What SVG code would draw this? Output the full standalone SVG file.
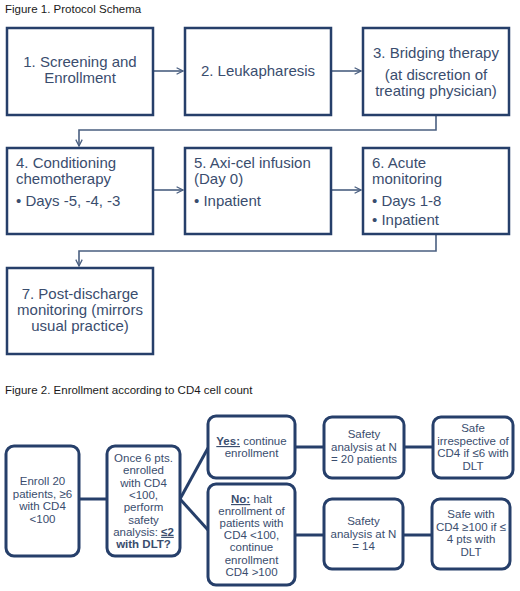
<svg xmlns="http://www.w3.org/2000/svg" width="520" height="591" viewBox="0 0 520 591">
<defs>
<style>
.t{font-family:"Liberation Sans",Arial,sans-serif;fill:#3a4d6e}
.h{font-family:"Liberation Sans",Arial,sans-serif;font-size:11.5px;fill:#1a1a1a}
.b1{fill:#fff;stroke:#263f6a;stroke-width:2.5}
.b2{fill:#fff;stroke:#263f6a;stroke-width:3}
.f1{font-size:15px}
.f2{font-size:11.5px;text-anchor:middle}
.c1{fill:none;stroke:#4a5f80;stroke-width:1.6}
.c2{fill:none;stroke:#263f6a;stroke-width:3}
.bu{font-weight:bold;text-decoration:underline}
.bo{font-weight:bold}
</style>
<marker id="ah" viewBox="0 0 10 10" refX="9" refY="5" markerWidth="8" markerHeight="8" markerUnits="userSpaceOnUse" orient="auto">
<path d="M1,1 L9,5 L1,9" fill="none" stroke="#4a5f80" stroke-width="1.6"/>
</marker>
</defs>
<rect width="520" height="591" fill="#fff"/>
<text class="h" x="5" y="13">Figure 1. Protocol Schema</text>
<text class="h" x="5" y="394">Figure 2. Enrollment according to CD4 cell count</text>

<g id="connectors">
<path class="c1" d="M153,71 H183" marker-end="url(#ah)"/>
<path class="c1" d="M331,71 H361" marker-end="url(#ah)"/>
<path class="c1" d="M436,115 V130 H79 V146" marker-end="url(#ah)"/>
<path class="c1" d="M153,190 H183" marker-end="url(#ah)"/>
<path class="c1" d="M331,190 H361" marker-end="url(#ah)"/>
<path class="c1" d="M436,234 V251 H79 V266" marker-end="url(#ah)"/>
<path class="c2" d="M79,499 H107"/>
<path class="c2" d="M180,499 L208,448"/>
<path class="c2" d="M180,499 L208,530"/>
<path class="c2" d="M295,447 H324"/>
<path class="c2" d="M404,447 H433"/>
<path class="c2" d="M295,535 H324"/>
<path class="c2" d="M403,535 H432"/>
</g>

<g id="n1"><rect class="b1" x="7" y="28" width="146" height="87"/>
<text class="t f1" text-anchor="middle"><tspan x="80" y="67">1. Screening and</tspan><tspan x="80" y="83">Enrollment</tspan></text></g>
<g id="n2"><rect class="b1" x="185" y="28" width="146" height="87"/>
<text class="t f1" text-anchor="middle" x="258" y="76">2. Leukapharesis</text></g>
<g id="n3"><rect class="b1" x="363" y="28" width="146" height="87"/>
<text class="t f1" text-anchor="middle"><tspan x="436" y="58">3. Bridging therapy</tspan><tspan x="436" y="80">(at discretion of</tspan><tspan x="436" y="96">treating physician)</tspan></text></g>
<g id="n4"><rect class="b1" x="7" y="148" width="146" height="86"/>
<text class="t f1"><tspan x="16" y="168">4. Conditioning</tspan><tspan x="16" y="184">chemotherapy</tspan><tspan x="16" y="206">• Days -5, -4, -3</tspan></text></g>
<g id="n5"><rect class="b1" x="185" y="148" width="146" height="86"/>
<text class="t f1"><tspan x="194" y="168">5. Axi-cel infusion</tspan><tspan x="194" y="184">(Day 0)</tspan><tspan x="194" y="206">• Inpatient</tspan></text></g>
<g id="n6"><rect class="b1" x="363" y="148" width="146" height="86"/>
<text class="t f1"><tspan x="372" y="168">6. Acute</tspan><tspan x="372" y="184">monitoring</tspan><tspan x="372" y="206">• Days 1-8</tspan><tspan x="372" y="225">• Inpatient</tspan></text></g>
<g id="n7"><rect class="b1" x="7" y="268" width="146" height="86"/>
<text class="t f1" text-anchor="middle"><tspan x="80" y="299">7. Post-discharge</tspan><tspan x="80" y="315">monitoring (mirrors</tspan><tspan x="80" y="331">usual practice)</tspan></text></g>

<g id="enroll"><rect class="b2" x="6" y="446" width="73" height="110" rx="8"/>
<text class="t f2"><tspan x="42.5" y="485">Enroll 20</tspan><tspan x="42.5" y="497.5">patients, ≥6</tspan><tspan x="42.5" y="510">with CD4</tspan><tspan x="42.5" y="522.5">&lt;100</tspan></text></g>
<g id="decision"><rect class="b2" x="107" y="446" width="73" height="110" rx="8"/>
<text class="t f2"><tspan x="143.5" y="462">Once 6 pts.</tspan><tspan x="143.5" y="474.3">enrolled</tspan><tspan x="143.5" y="486.6">with CD4</tspan><tspan x="143.5" y="498.9">&lt;100,</tspan><tspan x="143.5" y="511.2">perform</tspan><tspan x="143.5" y="523.5">safety</tspan><tspan x="143.5" y="535.8">analysis: <tspan class="bu">≤2</tspan></tspan><tspan class="bo" x="143.5" y="548.1">with DLT?</tspan></text></g>
<g id="yes"><rect class="b2" x="208" y="416" width="87" height="62" rx="8"/>
<text class="t f2"><tspan x="251.5" y="445"><tspan class="bu">Yes:</tspan> continue</tspan><tspan x="251.5" y="457">enrollment</tspan></text></g>
<g id="no"><rect class="b2" x="208" y="484" width="87" height="101" rx="8"/>
<text class="t f2"><tspan x="251.5" y="503"><tspan class="bu">No:</tspan> halt</tspan><tspan x="251.5" y="515.1">enrollment of</tspan><tspan x="251.5" y="527.2">patients with</tspan><tspan x="251.5" y="539.3">CD4 &lt;100,</tspan><tspan x="251.5" y="551.4">continue</tspan><tspan x="251.5" y="563.5">enrollment</tspan><tspan x="251.5" y="575.6">CD4 &gt;100</tspan></text></g>
<g id="safety20"><rect class="b2" x="324" y="417" width="80" height="61" rx="8"/>
<text class="t f2"><tspan x="364" y="438">Safety</tspan><tspan x="364" y="450.5">analysis at N</tspan><tspan x="364" y="463">= 20 patients</tspan></text></g>
<g id="safety14"><rect class="b2" x="324" y="499" width="79" height="70" rx="8"/>
<text class="t f2"><tspan x="363.5" y="525">Safety</tspan><tspan x="363.5" y="537.5">analysis at N</tspan><tspan x="363.5" y="550">= 14</tspan></text></g>
<g id="safe1"><rect class="b2" x="433" y="417" width="80" height="61" rx="8"/>
<text class="t f2"><tspan x="473" y="432">Safe</tspan><tspan x="473" y="444.5">irrespective of</tspan><tspan x="473" y="457">CD4 if ≤6 with</tspan><tspan x="473" y="469.5">DLT</tspan></text></g>
<g id="safe2"><rect class="b2" x="432" y="499" width="78" height="70" rx="8"/>
<text class="t f2"><tspan x="471" y="518">Safe with</tspan><tspan x="471" y="530.5">CD4 ≥100 if ≤</tspan><tspan x="471" y="543">4 pts with</tspan><tspan x="471" y="555.5">DLT</tspan></text></g>
</svg>
